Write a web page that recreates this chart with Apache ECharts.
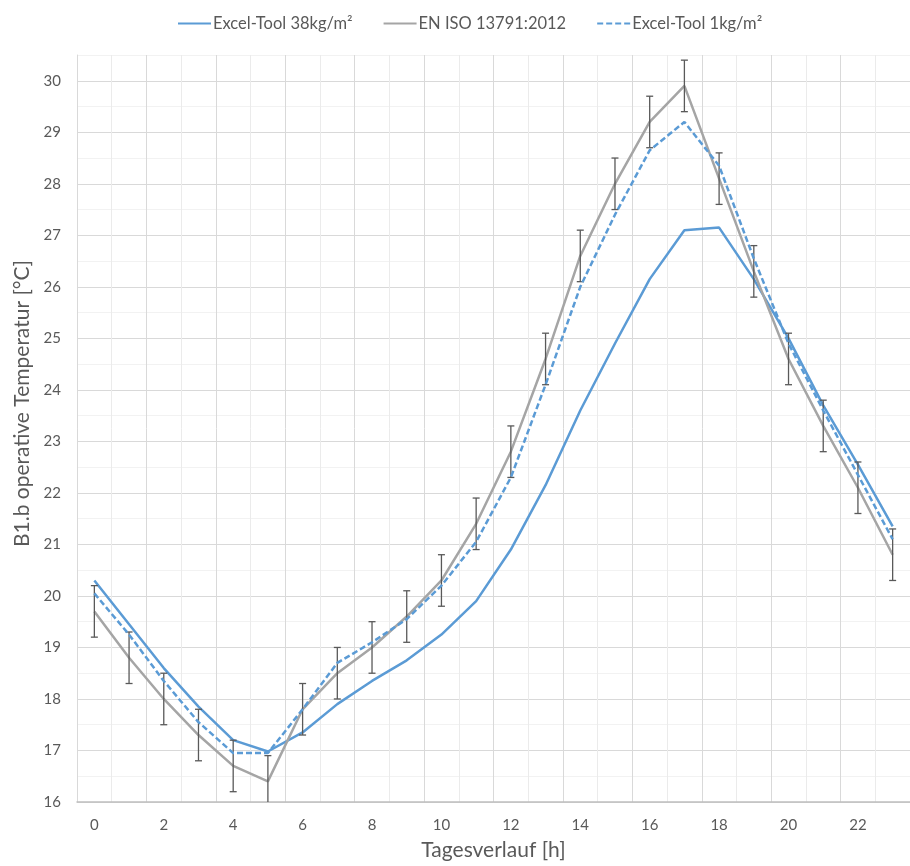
<!DOCTYPE html>
<html>
<head>
<meta charset="utf-8">
<script src="https://cdn.jsdelivr.net/npm/echarts@6/dist/echarts.min.js"></script>
<style>
html,body{margin:0;padding:0;background:#fff;}
#chart{width:910px;height:866px;}
</style>
</head>
<body>
<div id="chart"></div>
<script>
const hours = ['0','1','2','3','4','5','6','7','8','9','10','11','12','13','14','15','16','17','18','19','20','21','22','23'];
const excelTool38 = [20.3, 19.45, 18.6, 17.85, 17.2, 16.98, 17.35, 17.9, 18.35, 18.75, 19.25, 19.9, 20.9, 22.15, 23.6, 24.9, 26.15, 27.1, 27.15, 26.15, 25.0, 23.7, 22.55, 21.35];
const enIso13791 = [19.7, 18.8, 18.0, 17.3, 16.7, 16.4, 17.8, 18.5, 19.0, 19.6, 20.3, 21.4, 22.8, 24.6, 26.6, 28.0, 29.2, 29.9, 28.1, 26.3, 24.6, 23.3, 22.1, 20.8];
const excelTool1 = [20.05, 19.25, 18.35, 17.55, 16.95, 16.95, 17.8, 18.7, 19.1, 19.55, 20.2, 21.05, 22.3, 24.1, 26.0, 27.4, 28.65, 29.2, 28.35, 26.55, 24.9, 23.6, 22.35, 21.1];
const errorAmount = 0.5;
const seriesNames = ['Excel-Tool 38kg/m²', 'EN ISO 13791:2012', 'Excel-Tool 1kg/m²'];

const FONT = 'Lato';
const TXT = '#595959';
const chart = echarts.init(document.getElementById('chart'), null, {renderer: 'canvas'});

const errData = enIso13791.map((v, i) => [i, v - errorAmount, v + errorAmount]);

chart.setOption({
  animation: false,
  textStyle: {fontFamily: FONT},
  legend: {
    data: seriesNames,
    top: 10,
    left: 172,
    itemWidth: 33,
    itemHeight: 14,
    itemGap: 30,
    itemStyle: {opacity: 0},
    textStyle: {fontFamily: FONT, fontSize: 16.5, color: TXT, padding: [0,0,0,-3]}
  },
  grid: {left: 77, top: 55, bottom: 64, right: -7, containLabel: false},
  xAxis: {
    type: 'category',
    data: hours,
    boundaryGap: true,
    name: 'Tagesverlauf [h]',
    nameLocation: 'middle',
    nameGap: 38,
    nameTextStyle: {fontFamily: FONT, fontSize: 21, color: TXT},
    axisLine: {lineStyle: {color: '#BFBFBF', width: 1.5}},
    axisTick: {show: false},
    axisLabel: {interval: 1, margin: 16, fontFamily: FONT, fontSize: 15, color: TXT},
    splitLine: {show: true, interval: 0, lineStyle: {color: ['#D9D9D9', '#EBEBEB'], width: 1}}
  },
  yAxis: {
    type: 'value',
    min: 16,
    max: 30.5,
    interval: 0.5,
    name: 'B1.b operative Temperatur [°C]',
    nameLocation: 'middle',
    nameGap: 44,
    nameTextStyle: {fontFamily: FONT, fontSize: 21, color: TXT, padding: [0, 0, 0, 50]},
    axisLine: {show: true, lineStyle: {color: '#D9D9D9', width: 1}},
    axisTick: {show: false},
    axisLabel: {
      margin: 16, fontFamily: FONT, fontSize: 15, color: TXT,
      formatter: v => (Math.abs(v - Math.round(v)) < 1e-6 ? String(Math.round(v)) : '')
    },
    splitLine: {show: true, lineStyle: {color: ['#D9D9D9', '#F2F2F2'], width: 1}}
  },
  series: [
    {
      name: seriesNames[0], type: 'line', data: excelTool38, symbol: 'none',
      lineStyle: {color: '#5B9BD5', width: 2.5}, itemStyle: {color: '#5B9BD5'}, z: 3
    },
    {
      name: seriesNames[1], type: 'line', data: enIso13791, symbol: 'none',
      lineStyle: {color: '#A5A5A5', width: 2.5}, itemStyle: {color: '#A5A5A5'}, z: 4
    },
    {
      name: 'err', type: 'custom', data: errData, clip: true, z: 5,
      encode: {x: 0, y: [1, 2]},
      renderItem: function (params, api) {
        const x = api.value(0);
        const lo = api.coord([x, api.value(1)]);
        const hi = api.coord([x, api.value(2)]);
        const cap = 3.5;
        const style = {stroke: '#595959', lineWidth: 1.3};
        return {
          type: 'group',
          children: [
            {type: 'line', shape: {x1: lo[0], y1: lo[1], x2: hi[0], y2: hi[1]}, style: style},
            {type: 'line', shape: {x1: lo[0] - cap, y1: lo[1], x2: lo[0] + cap, y2: lo[1]}, style: style},
            {type: 'line', shape: {x1: hi[0] - cap, y1: hi[1], x2: hi[0] + cap, y2: hi[1]}, style: style}
          ]
        };
      }
    },
    {
      name: seriesNames[2], type: 'line', data: excelTool1, symbol: 'none',
      lineStyle: {color: '#5B9BD5', width: 2.5, type: [6, 3]}, itemStyle: {color: '#5B9BD5'}, z: 6
    }
  ]
});
</script>
</body>
</html>
